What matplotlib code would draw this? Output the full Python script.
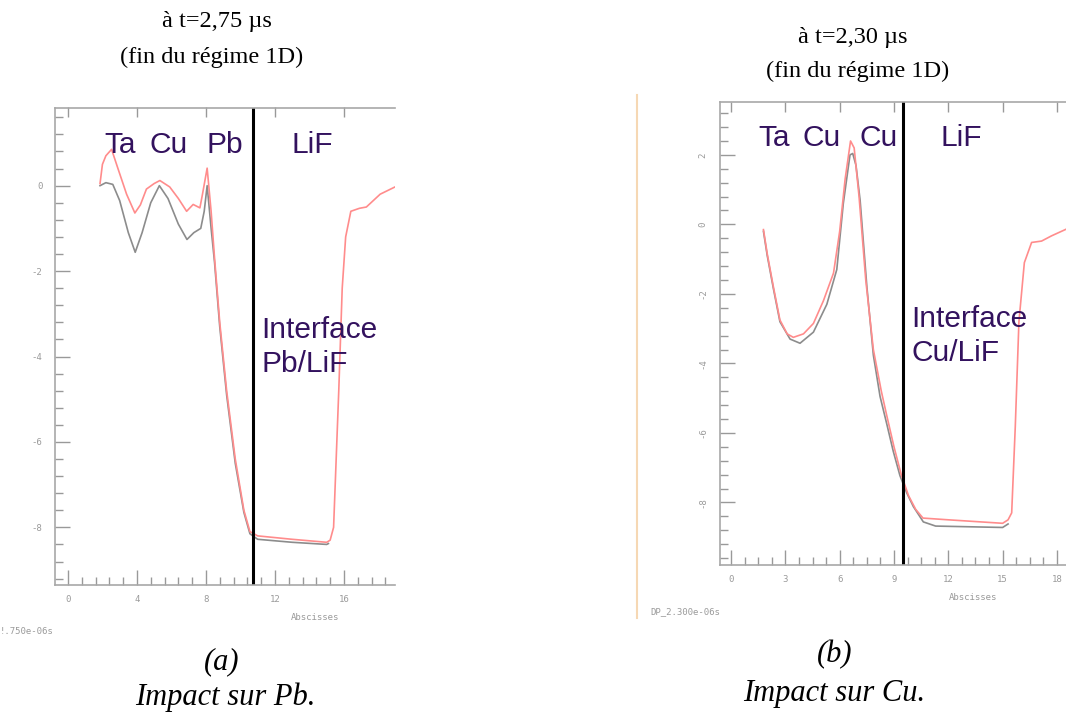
import matplotlib
matplotlib.use("Agg")
import matplotlib.pyplot as plt
from matplotlib.ticker import MultipleLocator

plt.rcParams["axes.unicode_minus"] = False

W, H = 1066, 715

# ── Panel (a): impact sur Pb, t = 2,75 µs ─────────────────────────────────
a_gray_x = [1.86, 2.2, 2.6, 3.0, 3.5, 3.9, 4.3, 4.8, 5.3, 5.8, 6.4, 6.9, 7.3,
            7.7, 7.9, 8.07, 8.3, 8.5, 8.8, 9.2, 9.7, 10.2, 10.55, 11.0, 13.0,
            15.0, 15.1]
a_gray_y = [0.0, 0.07, 0.03, -0.35, -1.1, -1.56, -1.1, -0.4, 0.0, -0.3, -0.9,
            -1.26, -1.1, -1.0, -0.6, 0.0, -1.0, -1.8, -3.3, -4.9, -6.5, -7.65,
            -8.15, -8.28, -8.35, -8.4, -8.38]
a_red_x = [1.86, 2.0, 2.2, 2.53, 2.9, 3.4, 3.88, 4.2, 4.55, 5.0, 5.33, 5.9, 6.4,
           6.88, 7.26, 7.65, 7.8, 8.07, 8.3, 8.5, 8.8, 9.2, 9.7, 10.2, 10.55,
           11.0, 13.0, 15.0, 15.2, 15.4, 15.7, 15.9, 16.1, 16.4, 16.9, 17.3,
           18.1, 18.96]
a_red_y = [0.05, 0.5, 0.7, 0.85, 0.4, -0.2, -0.64, -0.45, -0.08, 0.05, 0.12,
           -0.03, -0.3, -0.6, -0.44, -0.52, -0.2, 0.41, -0.6, -1.7, -3.2, -4.8,
           -6.4, -7.6, -8.1, -8.2, -8.28, -8.35, -8.3, -8.0, -4.8, -2.4, -1.2,
           -0.6, -0.53, -0.5, -0.2, -0.03]
a_interface = 10.72
a_xticks = [0, 4, 8, 12, 16]
a_yticks = [0, -2, -4, -6, -8]
a_layers = ["Ta", "Cu", "Pb", "LiF"]
a_layer_x = [2.14, 4.75, 8.04, 12.97]

# ── Panel (b): impact sur Cu, t = 2,30 µs ─────────────────────────────────
b_gray_x = [1.79, 2.0, 2.34, 2.7, 3.26, 3.81, 4.55, 5.29, 5.84, 6.2, 6.57,
            6.72, 6.9, 7.13, 7.5, 7.86, 8.23, 8.6, 8.96, 9.33, 9.7, 10.07,
            10.62, 11.3, 15.0, 15.3]
b_gray_y = [-0.2, -0.9, -1.85, -2.8, -3.3, -3.42, -3.1, -2.3, -1.3, 0.6, 2.0,
            2.04, 1.7, 0.69, -1.78, -3.76, -4.95, -5.74, -6.53, -7.23, -7.72,
            -8.12, -8.56, -8.68, -8.72, -8.62]
b_red_x = [1.79, 2.0, 2.34, 2.7, 3.1, 3.44, 4.0, 4.55, 5.1, 5.66, 6.0, 6.3,
           6.6, 6.8, 7.07, 7.44, 7.86, 8.3, 8.6, 9.0, 9.4, 9.8, 10.2, 10.6,
           12.0, 15.0, 15.3, 15.5, 15.7, 15.9, 16.2, 16.6, 17.15, 17.7, 18.5]
b_red_y = [-0.15, -0.85, -1.8, -2.75, -3.15, -3.25, -3.15, -2.85, -2.2, -1.4,
           -0.2, 1.3, 2.4, 2.2, 0.8, -1.6, -3.6, -4.8, -5.5, -6.4, -7.2, -7.8,
           -8.2, -8.45, -8.5, -8.6, -8.5, -8.3, -5.8, -2.8, -1.1, -0.52, -0.48,
           -0.33, -0.14]
b_interface = 9.5
b_xticks = [0, 3, 6, 9, 12, 15, 18]
b_yticks = [2, 0, -2, -4, -6, -8]
b_layers = ["Ta", "Cu", "Cu", "LiF"]
b_layer_x = [1.51, 3.96, 7.09, 11.55]

GRAY = "#8c8c8c"
RED = "#ff8c8c"
TXT = "#33125e"
LAB_SIZE = 21.5


def fx(x):
    return x / W


def fy(y):
    return 1 - y / H


def make_panel(rect, xlim, ylim, xminor, yminor, xticks, yticks, rot_y):
    ax = fig.add_axes(rect)
    ax.set_xlim(*xlim)
    ax.set_ylim(*ylim)
    for s in ["top", "left", "bottom"]:
        ax.spines[s].set_color("#a8a8a8")
        ax.spines[s].set_linewidth(1.2)
    ax.spines["right"].set_visible(False)
    ax.set_xticks(xticks)
    ax.set_yticks(yticks)
    ax.xaxis.set_minor_locator(MultipleLocator(xminor))
    ax.yaxis.set_minor_locator(MultipleLocator(yminor))
    ax.tick_params(which="both", direction="in", color="#999999", width=1,
                   labelsize=6.5, labelcolor="#9a9a9a", right=False)
    ax.tick_params(which="major", length=11, pad=7)
    ax.tick_params(which="minor", length=6)
    ax.tick_params(axis="y", pad=9)
    for lab in ax.get_xticklabels() + ax.get_yticklabels():
        lab.set_family("DejaVu Sans Mono")
    if rot_y:
        for lab in ax.get_yticklabels():
            lab.set_rotation(90)
            lab.set_va("center")
    top = ax.secondary_xaxis("top")
    top.set_xticks(xticks)
    top.set_xticklabels([])
    top.tick_params(direction="in", length=7, color="#999999", width=1)
    top.spines["top"].set_visible(False)
    return ax


fig = plt.figure(figsize=(W / 100, H / 100), dpi=100)

# panel (a)
ax1 = make_panel([fx(55), fy(585), (395 - 55) / W, (585 - 107.5) / H],
                 (-0.75, 18.96), (-9.35, 1.83), 0.8, 0.4,
                 a_xticks, a_yticks, False)
ax1.plot(a_gray_x, a_gray_y, color=GRAY, lw=1.2)
ax1.plot(a_red_x, a_red_y, color=RED, lw=1.2)
ax1.axvline(a_interface, color="black", lw=2.2)
for name, x in zip(a_layers, a_layer_x):
    ax1.text(x, 0.77, name, fontsize=LAB_SIZE, color=TXT,
             family="Liberation Sans", va="baseline", ha="left")
ax1.text(11.23, -3.57, "Interface", fontsize=LAB_SIZE, color=TXT,
         family="Liberation Sans", va="baseline")
ax1.text(11.23, -4.37, "Pb/LiF", fontsize=LAB_SIZE, color=TXT,
         family="Liberation Sans", va="baseline")

# panel (b)
ax2 = make_panel([fx(720), fy(565), (1066 - 720) / W, (565 - 102.4) / H],
                 (-0.61, 18.5), (-9.8, 3.51), 0.75, 0.4,
                 b_xticks, b_yticks, True)
ax2.plot(b_gray_x, b_gray_y, color=GRAY, lw=1.2)
ax2.plot(b_red_x, b_red_y, color=RED, lw=1.2)
ax2.axvline(b_interface, color="black", lw=2.2)
for name, x in zip(b_layers, b_layer_x):
    ax2.text(x, 2.26, name, fontsize=LAB_SIZE, color=TXT,
             family="Liberation Sans", va="baseline", ha="left")
ax2.text(9.98, -2.96, "Interface", fontsize=LAB_SIZE, color=TXT,
         family="Liberation Sans", va="baseline")
ax2.text(9.98, -3.92, "Cu/LiF", fontsize=LAB_SIZE, color=TXT,
         family="Liberation Sans", va="baseline")

# faint orange separator of panel (b)
fig.add_artist(plt.Line2D([fx(637), fx(637)], [fy(95), fy(618)],
                          color="#f6d8b4", lw=1.5))

# small gray annotations
small = dict(fontsize=6.5, color="#9a9a9a", family="DejaVu Sans Mono",
             va="center")
fig.text(fx(315), fy(617), "Abscisses", ha="center", **small)
fig.text(fx(973), fy(598), "Abscisses", ha="center", **small)
fig.text(fx(0), fy(632), "!.750e-06s", ha="left", **small)
fig.text(fx(650), fy(612), "DP_2.300e-06s", ha="left", **small)

# titles
serif = dict(family="Liberation Serif", ha="center", va="center")
fig.text(fx(217), fy(22), "à t=2,75 µs", fontsize=17.5, **serif)
fig.text(fx(212), fy(57), "(fin du régime 1D)", fontsize=17.5, **serif)
fig.text(fx(853), fy(37), "à t=2,30 µs", fontsize=17.5, **serif)
fig.text(fx(858), fy(71), "(fin du régime 1D)", fontsize=17.5, **serif)

# captions
fig.text(fx(222), fy(662), "(a)", fontsize=22, style="italic", **serif)
fig.text(fx(225), fy(697), "Impact sur Pb.", fontsize=22, style="italic",
         **serif)
fig.text(fx(835), fy(655), "(b)", fontsize=22, style="italic", **serif)
fig.text(fx(834), fy(693), "Impact sur Cu.", fontsize=22, style="italic",
         **serif)

fig.savefig("out.png", dpi=100)
plt.close(fig)
